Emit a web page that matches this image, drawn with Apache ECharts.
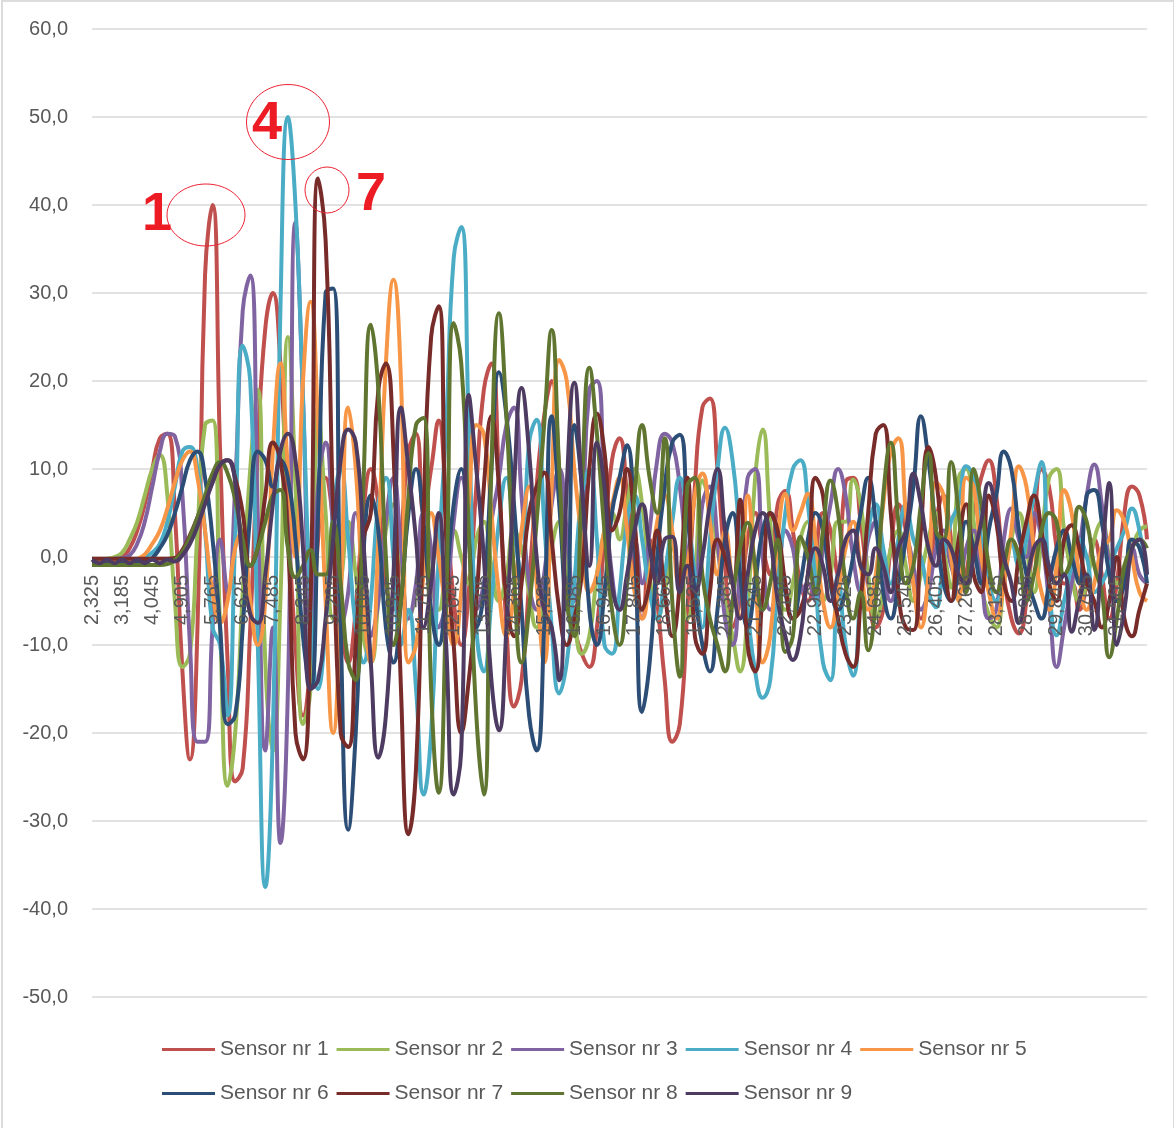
<!DOCTYPE html>
<html><head><meta charset="utf-8">
<script src="https://cdn.jsdelivr.net/npm/echarts@6/dist/echarts.min.js"></script>
<style>html,body{margin:0;padding:0;background:#fff}#c{width:1174px;height:1128px}</style>
</head><body><div id="c"></div>
<script>
const tickLabels=['2,325','3,185','4,045','4,905','5,765','6,625','7,485','8,345','9,205','10,065','10,925','11,785','12,645','13,505','14,365','15,225','16,085','16,945','17,805','18,665','19,525','20,385','21,245','22,105','22,965','23,825','24,685','25,545','26,405','27,265','28,125','28,985','29,845','30,705','31,565'];
const sensor1=[
-0.4,-0.4,-0.4,-0.3,0,1,3,6,10,13.5,
14,5,-13,-23,-8,32,40,12,-12,-25.5,
-24,-8,12,26,30,22,5,-10,-18,-12,
2,9,4,-6,-12,-6,5,10,6,-3,
-6,2,12,14,5,10,15.5,6,-5,-10,
-4,8,19,22,9,-8,-17,-14,-3,8,
16,20,10,-3,-8,-11,-12.5,-8,2,11,
13.5,7,-2,-7,2,-5,-14,-21,-19,-6,
8,17,18,10,-1,-8,-5,2,5,1,
-2,6,7.5,3,-3,-5,0,5,3,-2,
8.5,9,4,-3,-8,-6,1,6,3,-3,
-7,-3,4,7,2,-4,-2,5,9,11,
7,-2,-7,-8.7,-5,3,10,8,1,-3,
-3,-6,-3,2,-2,-7,-3,5,8,7,
2];
const sensor2=[
-0.3,-0.3,-0.2,0,0.5,2,4,7,10,11.6,
7,-5,-12.5,-11,3,15,15.5,-8,-26,-20,
-4,10,19,-12,-22,-5,25,8,-19,-15,
17,5,-7,-3,4,-2,-9,-12,-5,3,
6,0,-7,-4,2,-3,-6,-1,3,0,
-3,2,4,-1,-5,-2,3,1,-4,-8,
-5,1,4,-1,-7,-11,-9,-2,3,5,
2,6,10,6,-2,-7,-4,1,-3,-7,
-2,8.7,6,1,-5,-9,-13,-6,9,14.5,
4,-4,-6,-3,2,4,0,-5,-2,4,
4,8.8,6,-2,-7,-4,1,3,-1,-5,
-2,2,5,1,-3.5,9,10,4,-3,-6.5,
-8,-3,2,5,1,-4,2,9,10,3,
-2,-5,-3,2,4,0,-3,-1,1,3,
3.5];
const sensor3=[
-0.3,-0.3,-0.3,-0.2,-0.1,0.2,1.5,4,8,12,
14,13.7,7,-10,-21,-21,-8,2,-4,8,
28,32,5,-22,-8,-32.5,-15,38,18,-8,
8,13,3,-8,-4,5,0,-9,-5,4,
9,1,-7,-3,5,1,-8,-5,4,9,
3,-6,-3,4,9,15,17,7,-3,-6,
-2,6,10,3,-5,3,19,20,8,-2,
-6,-3,2,-3,3,11,14,13,8,0,
-4,6,8,2,-7,-10,-1,9,10,0,
-6,-3,3,1,-4,-3,-5,1,6,10,
7,0,-4,2,4,-1,-5,-2,2,-1,
-6,-4,1,3,-1,-3,1,3,-2,-7,
-6,2,5.5,2,0,5,2,-5,-12.5,-8,
-3,1,7,10.5,6,-1,-5,-2,1,-2,
-3];
const sensor4=[
-0.6,-0.6,-0.6,-0.6,-0.6,-0.5,-0.3,0,0.5,1.5,
4,8,12,12.5,10,3,-8,-10,-18,2,
24,20,-10,-37.5,-20,28,50,40,18,-5,
-15,-8,5,10,2,-8,-12,-5,6,9,
0,-10,-6,-15,-27,-20,0,15,34,37.5,
15,-8,-13,-5,4,9,3,-2,13,15.6,
4,-8,-15.5,-12,-3,7,10,2,-10,-11,
-4,4,7,2,-4,-7,-2,4,9,5,
-2,-8,2,10,14.7,11,2,-6,-13,-16,
-14,-3,5,10,11,6,-3,-12,-14,-2,
-10,-13.5,-4,3,6,1,-3,2,6,2,
0,-4,-5.7,0,4,6,10.3,9,2,-3,
-5,-2,2,-1,2,7,10.8,-3,-8.9,-5,
-1,2,0,-4,-3,-1,1,3,5.5,3,
-2];
const sensor5=[
-0.4,-0.4,-0.4,-0.4,-0.4,-0.4,-0.2,0.3,1.5,3,
5.5,8.5,11,12,9,3,-4,-7.5,-5,1,
3,-5,-10,-5,12,22,10,0,20,29,
15,-5,-20,-5,17,10,-5,-12,2,22,
31.5,20,-12,-10,-2,5,0,-6,-10,-4,
6,15,14,5,-4,-9,-4,3,8,-3,
-12,8,22.4,20,10,2,-4,-2,3,6,
9,3,-4,-7,-2,4,7,3,-3,-1,
7,9.5,4,-2,3,-3,-7,7,-2,-12,
-9,2,7.2,3,5,7.2,2,-5,-8,-4,
1,4,-1,-6,-2,6,12,13.5,5,-3,
-8,-2,8.5,7,0,-5,9,8,0,-4,
-7,-3,3,10.3,8,1,-4,-6,-1,7.6,
5,-2,-6,-3,1,2,5.3,4,0,-4,
-5];
const sensor6=[
-0.8,-0.8,-0.8,-0.8,-0.8,-0.8,-0.7,-0.5,-0.1,1,
2.5,5,8,11,12,9,2,-8,-19,-18,
-8,5,12,11,8,11,9,2,-9,-15,
5,30,30.5,-8,-31,-20,0,7,3,-8,
-12,-5,5,10,4,-6,-10,-3,6,10,
2,-8,-4,10,21,16,6,-6,-18,-22,
-8,16,6,-6,15,8,-6,-10,-4,5,
9,12.7,2,-17.6,-12,0,8,13,13.9,5,
-4,-10,-13,-6,2,5,-2,-8,-3,3,
5,2,-4,-7,-3,2,5,3,-3,-6,
-4,0,5,9,4,-4,-7,-3,2,8,
16,11,3,-3,-5,-1,4,1,-3,3,
7,12,10,3,-2,-5,-7,-3,1,3,
0,-3,7,7.6,4,-2,-5,-3,2,1,
-3];
const sensor7=[
-0.2,-0.2,-0.2,-0.2,-0.2,-0.2,-0.2,-0.2,-0.2,-0.2,
-0.2,-0.1,0.8,2.5,4.5,6.5,8.5,10.5,11,9,
5,-1,1,7,13,11,2,-20,-23,-5,
43,36,5,-20,-21.6,-10,2,5,19,22,
12,-15,-31.5,-24,5,25,28.5,2,-10,-20,
-14,-5,8,16,8,-5,-9,-3,5,8,
9.6,2,-6,-10,-7,-2,10,16.3,12,3,
5,10,4,-6,-3,3,-4,-9,-3,9,
-9,-11,-4,2,0,-3,6.5,-10,-13,-4,
5,3,-3,-7,-6,-2,9,7,-2,-7,
-11,-12.5,-5,5,14,15,5,-4,-8,-8.3,
3,12.5,9,0,-5,2,6,-2,-4,7,
4,-3,-5,0,4,7,3,-3,-5,2,
3.6,1,-3,-5,-8,-5,0,-7,-9,-6,
-3];
const sensor8=[
-0.9,-0.9,-0.9,-0.9,-0.9,-0.9,-0.9,-0.9,-0.9,-0.9,
-0.8,-0.3,0.6,2.3,4.5,7,9.5,10.8,9.5,6.5,
2,-1,1,4,7,7.6,1,-2.3,-1,0.8,
-2,-2,4,-3,-12,-14,8,26.4,19,0,
-10,-5,7,15,15.8,-15,-26.8,-5,26.6,22,
3,-18,-27,10,27.7,16,-2,-12,-6,4,
15,25.8,10,-5,-9,8,21.5,14,3,-6,
-10,-3,7,15,9,5,13.5,-5,-13.6,8,
9,-2,-7,-10,-13,-5,1,3.9,-1,-6,
-3,2,-10.8,-9,2.3,0,-4,3,8.7,5,
-3,-7,-4,-10.6,-5,7,13,4,-3,-1,
6,11.8,3,2,10.8,5,-4,10,6,-1,
-4,-1,2,0,-5,-2,3,5,4,-2,
0,5.7,4,-1,-4,-11.4,-7,-1,1,2,
1];
const sensor9=[
-0.3,-0.7,-0.3,-0.7,-0.3,-0.7,-0.3,-0.7,-0.3,-0.7,
-0.3,-0.5,0.2,1.5,3.5,6,8.5,10.5,11,8.5,
-1,-6.5,-7.5,-2,6,12,14,11,1,-15,
-14,-7,2,11,14.5,13,2,-12,-22.8,-18,
-2,17,10,2,-8,-3,5,-10,-27,-22,
18.4,10,0,-14,-19.7,-8,8,19.2,12,0,
-6,-8,-14,8,19.8,8,-1,13,8,-3,
-6,-2,3,6,1,-3,2,2.3,-4,-1,
-4,0,6,10,3,-3,-7,-2,3,5,
2,-5,-9,-11.7,-9,-2,1,-1,-5,-2,
2,3,-1,-2,1,-1,-4,1,3,9.5,
6,1,-1,2,1,-2,-3,0,4,8.4,
5,0,-3,-7.5,-3,1,2,-1,-3,-2,
-8.5,-5,-2,-8.3,0,8.4,-10,-6,1,2,
-2];
const sensorNames=['Sensor nr 1','Sensor nr 2','Sensor nr 3','Sensor nr 4','Sensor nr 5','Sensor nr 6','Sensor nr 7','Sensor nr 8','Sensor nr 9'];
const sensorValues=[sensor1,sensor2,sensor3,sensor4,sensor5,sensor6,sensor7,sensor8,sensor9];
const colors=['#C0504D','#9BBB59','#8064A2','#4BACC6','#F79646','#2C4D75','#772C2A','#5F7530','#4D3B62'];
const categories=sensor1.map((_,i)=>i%4===0&&tickLabels[i/4]?tickLabels[i/4]:'');
const FONT='"Liberation Sans",sans-serif';
const legendBase={orient:'horizontal',left:162,padding:0,icon:'rect',itemWidth:53,itemHeight:3,itemGap:8,
 textStyle:{fontFamily:FONT,fontSize:21,color:'#595959'}};
const chart=echarts.init(document.getElementById('c'),null,{renderer:'canvas'});
chart.setOption({
 animation:false,color:colors,backgroundColor:'#fff',
 grid:{left:92,top:29,width:1055,height:968,containLabel:false},
 legend:[
  Object.assign({},legendBase,{top:1039,data:sensorNames.slice(0,5)}),
  Object.assign({},legendBase,{top:1083,data:sensorNames.slice(5)})
 ],
 xAxis:{type:'category',data:categories,boundaryGap:false,z:5,offset:-440,
  axisLine:{show:false,onZero:false},axisTick:{show:false},
  axisLabel:{interval:3,rotate:90,margin:18,fontFamily:FONT,fontSize:20,color:'#595959',hideOverlap:false,showMinLabel:true,showMaxLabel:false}},
 yAxis:{type:'value',min:-50,max:60,interval:10,
  axisLine:{show:false},axisTick:{show:false},
  splitLine:{lineStyle:{color:'#d9d9d9',width:1.5}},
  axisLabel:{margin:24,fontFamily:FONT,fontSize:20,color:'#595959',formatter:v=>v.toFixed(1).replace('.',',')}},
 series:sensorNames.map((n,i)=>({name:n,type:'line',data:sensorValues[i],symbol:'none',smooth:0.5,
   lineStyle:{width:4,color:colors[i]},itemStyle:{color:colors[i]},emphasis:{disabled:true}})),
 graphic:[
  {type:'rect',z:0,shape:{x:2,y:1,width:1172,height:1140},style:{fill:'none',stroke:'#dcdcdc',lineWidth:2}},
  {type:'ellipse',z:100,shape:{cx:206,cy:215,rx:39,ry:31},style:{fill:'none',stroke:'#ee2233',lineWidth:1}},
  {type:'ellipse',z:100,shape:{cx:288,cy:122,rx:41.5,ry:37.5},style:{fill:'none',stroke:'#ee2233',lineWidth:1}},
  {type:'ellipse',z:100,shape:{cx:327,cy:190,rx:22,ry:23},style:{fill:'none',stroke:'#ee2233',lineWidth:1}},
  {type:'text',z:100,x:157,y:215,style:{text:'1',fill:'#ed1c24',font:'bold 54px "Liberation Sans",sans-serif',textAlign:'center',textVerticalAlign:'middle'}},
  {type:'text',z:100,x:267,y:124,style:{text:'4',fill:'#ed1c24',font:'bold 54px "Liberation Sans",sans-serif',textAlign:'center',textVerticalAlign:'middle'}},
  {type:'text',z:100,x:371,y:195,style:{text:'7',fill:'#ed1c24',font:'bold 54px "Liberation Sans",sans-serif',textAlign:'center',textVerticalAlign:'middle'}}
 ]
});
</script></body></html>
